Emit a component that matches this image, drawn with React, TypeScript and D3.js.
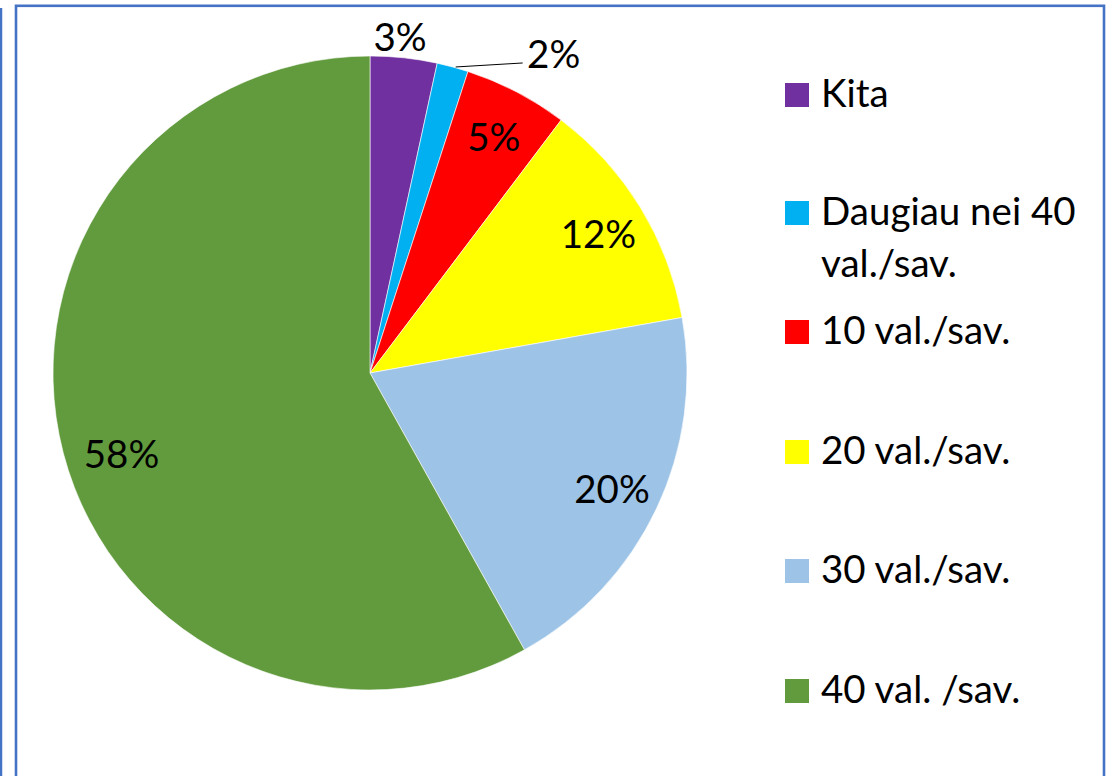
import React from "react";
import * as d3 from "d3";

const categories = ["Kita", "Daugiau nei 40 val./sav.", "10 val./sav.", "20 val./sav.", "30 val./sav.", "40 val. /sav."];
const legendLines = [["Kita"], ["Daugiau nei 40", "val./sav."], ["10 val./sav."], ["20 val./sav."], ["30 val./sav."], ["40 val. /sav."]];
const values = [3.4, 1.6, 5.3, 11.9, 19.7, 58.1];
const colors = ["#7030A0", "#00B0F0", "#FF0000", "#FFFF00", "#9DC3E6", "#629B3E"];
const legendBaselines = [107, 225, 344, 464, 583, 703];

const W = 1109;
const H = 776;
const FONT = "Lato, 'Liberation Sans', sans-serif";
const FS = 38.5;

export default function App() {
  const cx = 370;
  const cy = 373;
  const R = 317;
  const total = d3.sum(values);
  const pie = d3.pie<number>().sort(null).value((d) => d);
  const arcs = pie(values);
  const arcGen = d3.arc<d3.PieArcDatum<number>>().innerRadius(0).outerRadius(R);
  const labelArc = d3.arc<d3.PieArcDatum<number>>().innerRadius(R * 0.845).outerRadius(R * 0.845);
  const bigArc = d3.arc<d3.PieArcDatum<number>>().innerRadius(R * 0.81).outerRadius(R * 0.81);
  const fmt = (v: number) => `${Math.round((v / total) * 100)}%`;

  const labels = arcs.map((a, i) => {
    const mid = (a.startAngle + a.endAngle) / 2;
    if (i === 0) {
      const r = R + 22;
      return { x: Math.sin(mid) * r - 6, y: -Math.cos(mid) * r, leader: null as null | number[] };
    }
    if (i === 1) {
      const sx = Math.sin(mid) * R;
      const sy = -Math.cos(mid) * R;
      const ex = sx + 70;
      const ey = sy - 4;
      return { x: ex + 31, y: ey - 10, leader: [sx + 3, sy, ex, ey] };
    }
    if (i === 5) {
      const [x, y] = bigArc.centroid(a);
      return { x, y: y + 15, leader: null };
    }
    const [x, y] = labelArc.centroid(a);
    return { x, y, leader: null };
  });

  return (
    <svg width={W} height={H} style={{ position: "absolute", left: 0, top: 0, background: "#fff" }}>
      <line x1={1} y1={8} x2={1} y2={H} stroke="#4472C4" strokeWidth={2.5} />
      <rect x={16} y={5.8} width={1088} height={H + 20} fill="none" stroke="#4472C4" strokeWidth={2.6} />
      <g transform={`translate(${cx},${cy})`}>
        {arcs.map((a, i) => (
          <path key={categories[i]} d={arcGen(a) || ""} fill={colors[i]} stroke="#fff" strokeWidth={0.6} />
        ))}
        {labels.map((l, i) => (
          <g key={"l" + i}>
            {l.leader && (
              <line x1={l.leader[0]} y1={l.leader[1]} x2={l.leader[2]} y2={l.leader[3]} stroke="#000" strokeWidth={1} />
            )}
            <text
              x={l.x}
              y={l.y}
              textAnchor="middle"
              dominantBaseline="central"
              fontFamily={FONT}
              fontSize={FS}
              fill="#000"
            >
              {fmt(values[i])}
            </text>
          </g>
        ))}
      </g>
      <g>
        {categories.map((c, i) => (
          <g key={"leg" + c}>
            <rect x={785} y={legendBaselines[i] - 24} width={24} height={24} fill={colors[i]} />
            {legendLines[i].map((ln, j) => (
              <text key={j} x={821} y={legendBaselines[i] + j * 52} fontFamily={FONT} fontSize={FS} fill="#000">
                {ln}
              </text>
            ))}
          </g>
        ))}
      </g>
    </svg>
  );
}
